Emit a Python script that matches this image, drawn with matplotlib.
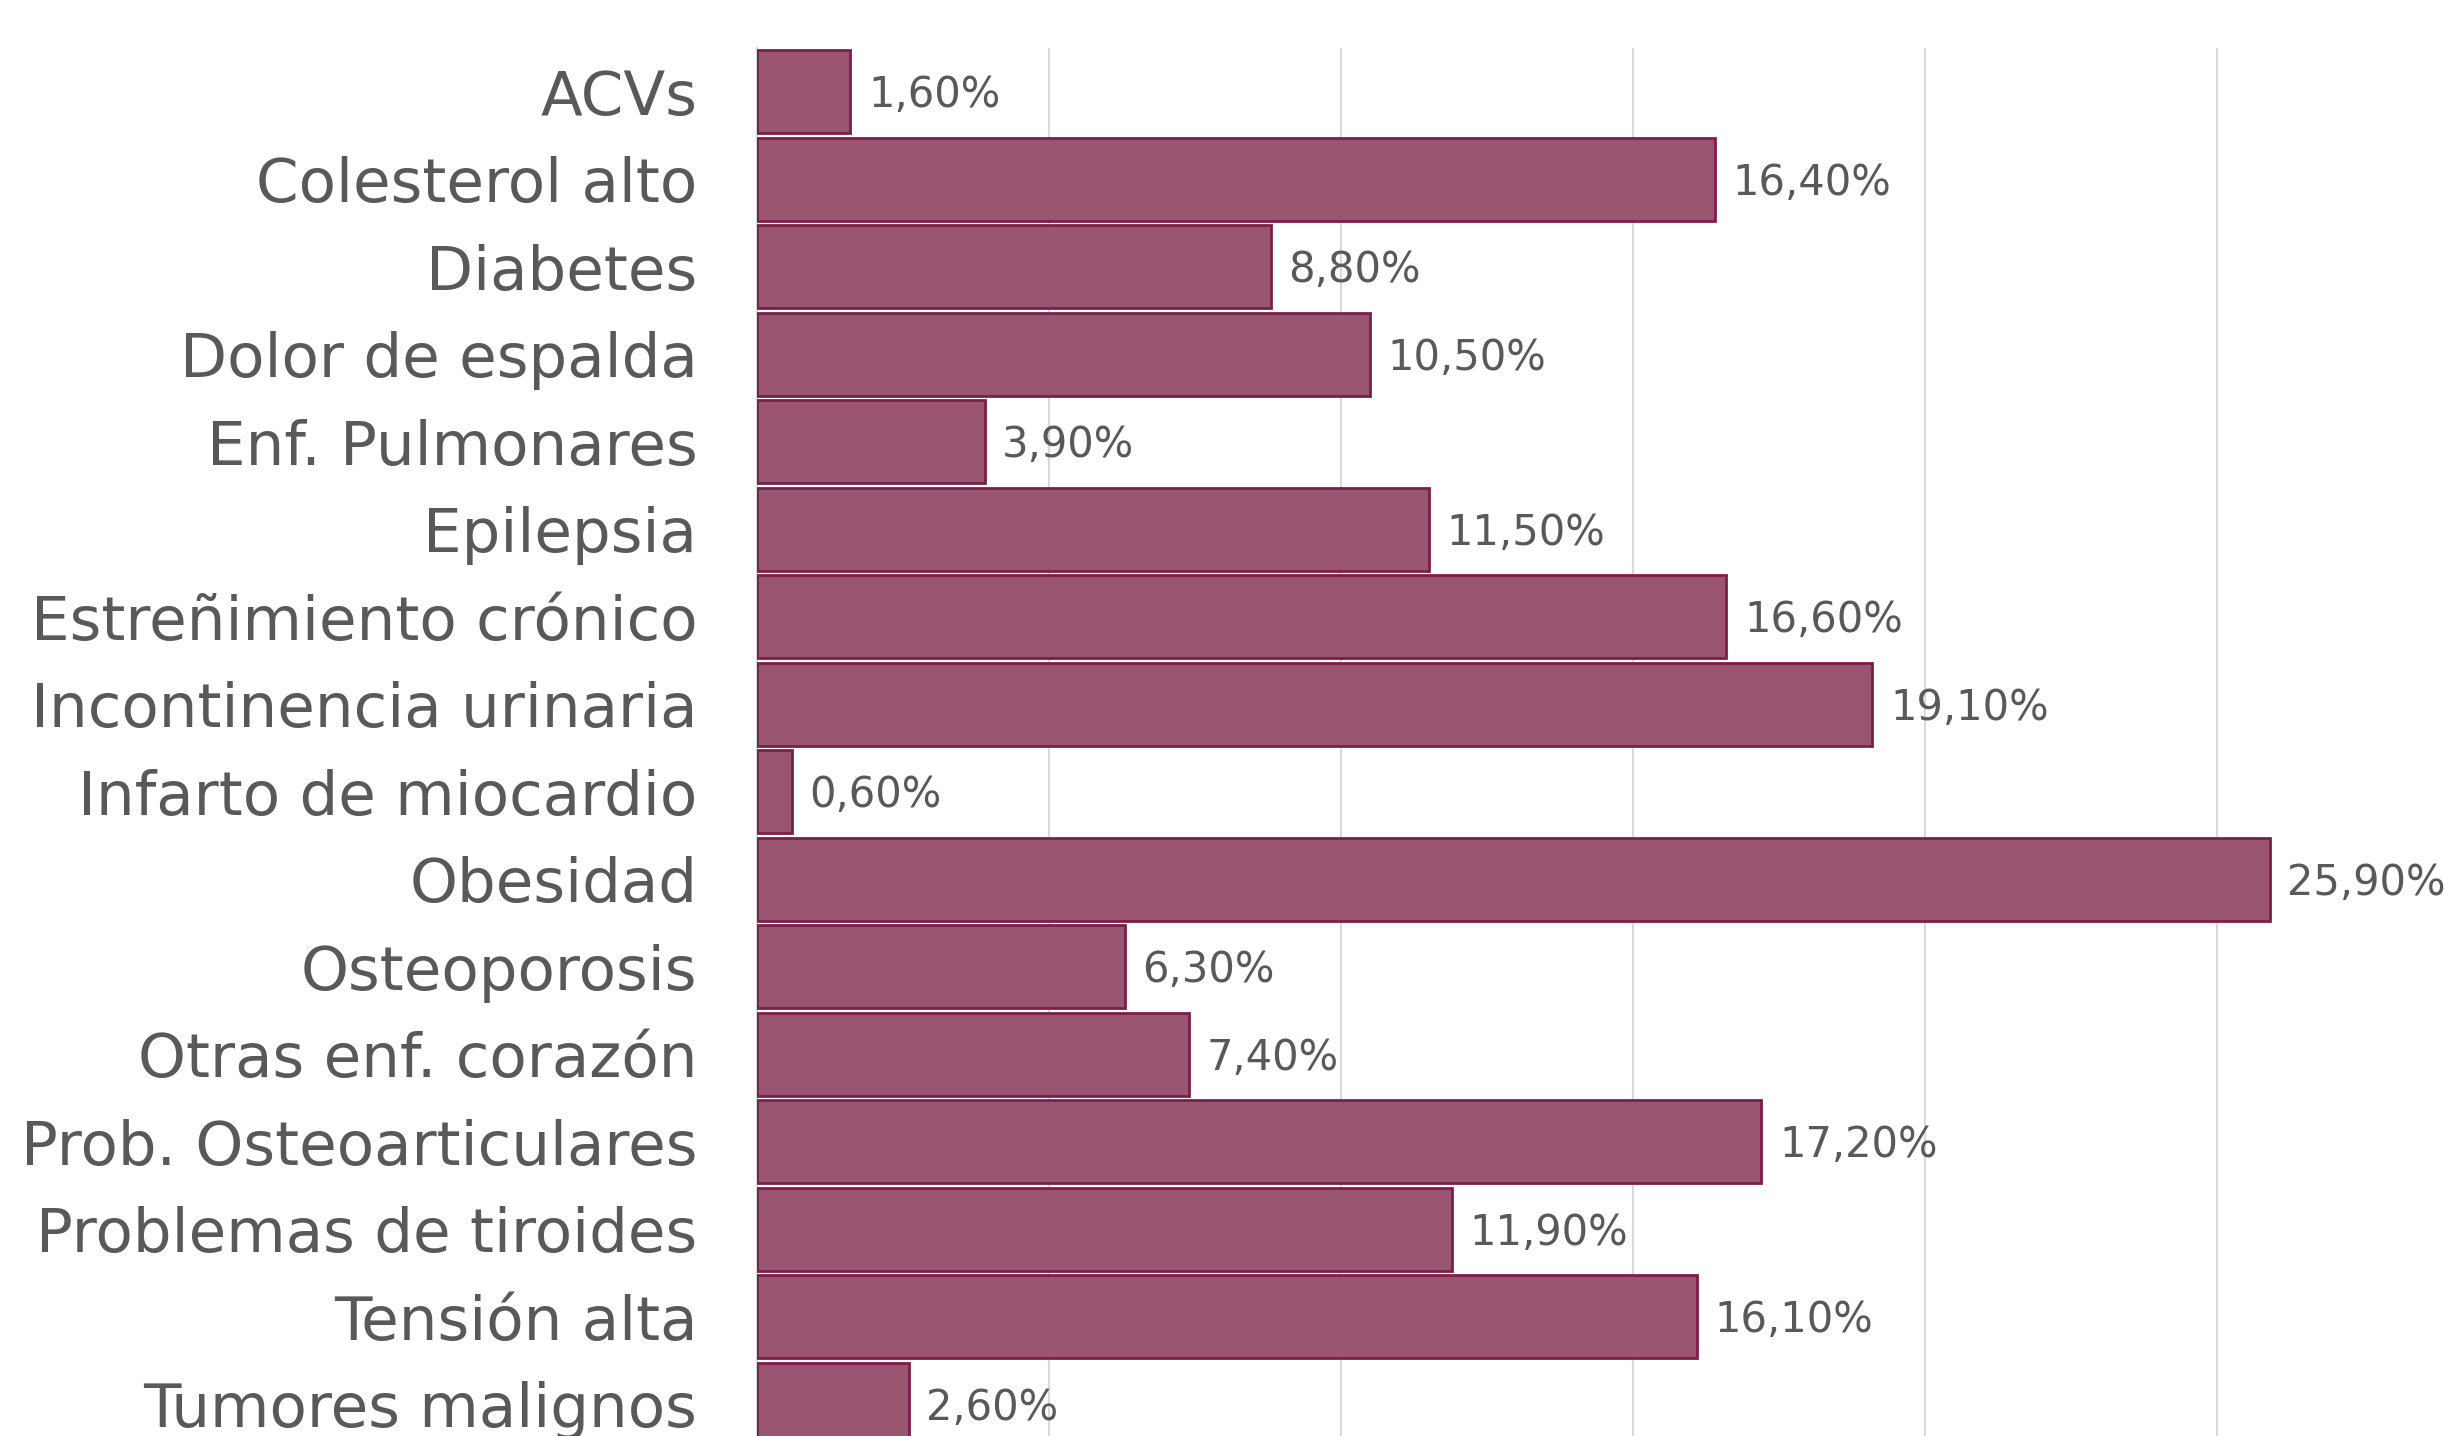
import matplotlib.pyplot as plt

categorias = ['ACVs', 'Colesterol alto', 'Diabetes', 'Dolor de espalda',
              'Enf. Pulmonares', 'Epilepsia', 'Estreñimiento crónico',
              'Incontinencia urinaria', 'Infarto de miocardio', 'Obesidad',
              'Osteoporosis', 'Otras enf. corazón', 'Prob. Osteoarticulares',
              'Problemas de tiroides', 'Tensión alta', 'Tumores malignos']
valores = [1.6, 16.4, 8.8, 10.5, 3.9, 11.5, 16.6, 19.1, 0.6, 25.9,
           6.3, 7.4, 17.2, 11.9, 16.1, 2.6]

plt.rcParams['font.family'] = ['DejaVu Sans']
gris = '#595959'

fig = plt.figure(figsize=(24.44, 14.36), dpi=100)
ax = fig.add_axes([757 / 2444, 1 - 1448 / 1436, 1752 / 2444, 1400 / 1436])

pos = list(range(len(categorias)))
ax.barh(pos, valores, height=0.95, color='#9A5570', edgecolor='#7A1F4A', linewidth=2, zorder=3)

for p, v in zip(pos, valores):
    ax.text(v + 0.3, p + 0.04, ('%.2f' % v).replace('.', ',') + '%', va='center', ha='left',
            fontsize=30, color=gris, zorder=4)

ax.set_xlim(0, 30)
ax.set_ylim(len(categorias) - 0.5, -0.5)
ax.set_xticks([5, 10, 15, 20, 25])
ax.set_xticklabels([])
ax.set_yticks(pos)
ax.set_yticklabels(categorias, fontsize=44, color=gris)
ax.tick_params(axis='both', length=0)
ax.tick_params(axis='y', pad=43)
ax.grid(axis='x', color='#D9D9D9', linewidth=1.5, zorder=0)

for s in ['top', 'right', 'bottom']:
    ax.spines[s].set_visible(False)
ax.spines['left'].set_color('#D9D9D9')
ax.spines['left'].set_linewidth(1.5)

fig.savefig('out.png', dpi=100)
